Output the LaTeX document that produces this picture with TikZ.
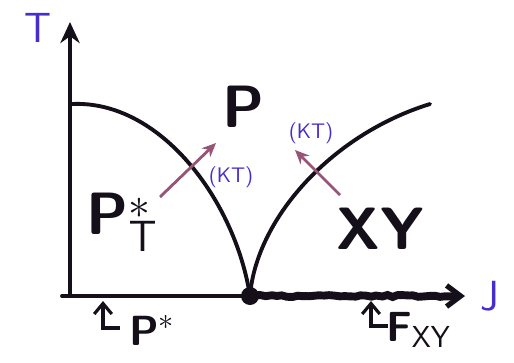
\documentclass[tikz,border=0pt]{standalone}
\usetikzlibrary{arrows.meta,decorations.pathmorphing}

\definecolor{pen}{RGB}{20,15,25}
\definecolor{ink}{RGB}{70,45,205}
\definecolor{flow}{RGB}{150,85,120}

\begin{document}
\begin{tikzpicture}[
  x=0.02cm, y=-0.02cm,
  axis/.style={line width=2.2pt, draw=pen, line cap=round},
  curve/.style={line width=2.2pt, draw=pen, line cap=round},
  qlro/.style={line width=4.5pt, draw=pen, decorate,
    decoration={random steps, segment length=3pt, amplitude=0.6pt}},
  rg/.style={line width=1.6pt, draw=flow, -{Stealth[length=8pt,width=7pt]}},
  axlabel/.style={text=ink, font=\sffamily\fontsize{24}{24}\selectfont},
  phase/.style={text=pen, font=\sffamily\bfseries\fontsize{34}{34}\selectfont},
  kt/.style={text=ink, font=\sffamily\fontsize{12}{12}\selectfont},
  pointer/.style={line width=1.8pt, draw=pen, -{Straight Barb[length=6pt,width=10pt]}},
  ptlabel/.style={text=pen, font=\sffamily\bfseries\fontsize{24}{24}\selectfont}
]
\useasboundingbox (0,0) rectangle (514,362);

% Axes
\coordinate (O) at (70,296);
\coordinate (Ttip) at (70,22);
\coordinate (xl) at (62,296);
\coordinate (Jtip) at (465,296);
\node[circle, fill=pen, inner sep=0pt, minimum size=0.36cm] (crit) at (250,296) {};

\draw[axis, -{Stealth[length=12pt,width=11pt]}] (O) -- (Ttip);
\draw[axis] (xl) -- (crit.center);
\draw[qlro] (crit.center) -- (455,296);
\draw[axis, line width=3pt, -{Straight Barb[length=8pt,width=12pt]}] (440,296) -- (Jtip);

\node[axlabel] (T) at (38,28) {T};
\node[axlabel] (J) at (490,296) {J};

% Phase boundaries
\coordinate (top) at (72,104);
\coordinate (end) at (430,104);
\draw[curve] (top) .. controls (160,100) and (235,200) .. (crit.center);
\draw[curve] (crit.center) .. controls (256,220) and (330,135) .. (end);

% Phases
\node[phase] (P) at (243,107) {P};
\node[phase] (PT) at (122,222) {P$_{\mathsf{T}}^{\mathbf{*}}$};
\node[phase] (XY) at (380,229) {XY};

% Flows
\coordinate (a1) at (160,197);
\coordinate (a2) at (216,143);
\coordinate (b1) at (340,195);
\coordinate (b2) at (295,150);
\draw[rg] (a1) -- (a2);
\draw[rg] (b1) -- (b2);
\node[kt] (ktl) at (231,177) {(KT)};
\node[kt] (ktr) at (311,133) {(KT)};

% Pointers on the J axis
\coordinate (m1) at (120,328);
\coordinate (m1t) at (103,301);
\coordinate (m2) at (388,326);
\coordinate (m2t) at (371,301);
\draw[pointer] (m1) -| (m1t);
\draw[pointer] (m2) -| (m2t);
\node[ptlabel] (pstar) at (152,330) {P$^{\mathbf{*}}$};
\node[ptlabel, anchor=west] (fxy) at (380,330) {F$_{\mathsf{XY}}$};

\end{tikzpicture}
\end{document}
